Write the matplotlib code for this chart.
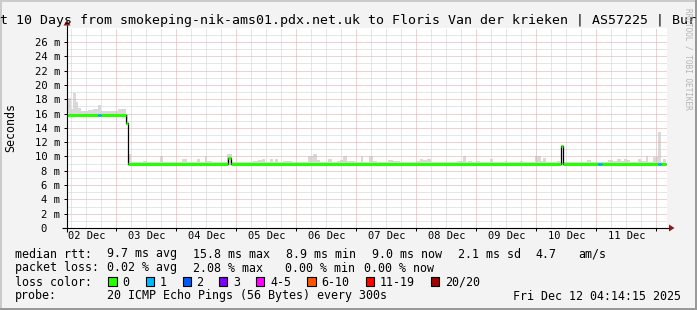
import matplotlib
matplotlib.use("Agg")
import matplotlib.pyplot as plt
from matplotlib.patches import Rectangle, Polygon
from datetime import datetime, timedelta

# ---------------- data ----------------
end_time = datetime(2025, 12, 12, 4, 14, 15)
span_hours = 240
start_time = end_time - timedelta(hours=span_hours)

# median rtt segments (hours since start), value in ms, loss level index
med_start = [0.0, 12.5, 13.6, 23.5, 24.3, 64.2, 65.6, 197.4, 198.2, 212.5, 213.9, 236.5, 237.6]
med_end   = [12.5, 13.6, 23.5, 24.3, 64.2, 65.6, 197.4, 198.2, 212.5, 213.9, 236.5, 237.6, 239.6]
med_ms    = [15.8, 15.8, 15.8, 14.7, 9.0, 9.75, 9.0, 11.5, 9.0, 9.0, 9.0, 9.0, 9.0]
med_loss  = [0, 1, 0, 0, 0, 0, 0, 0, 0, 1, 0, 1, 0]

# smoke (spread of pings) : bars with top value in ms
smoke_start = [0.0, 1.6, 2.3, 3.4, 4.4, 5.4, 8.2, 10.3, 12.3, 13.6, 17.6, 20.3, 23.5,
               24.3, 24.3, 30.4, 37.2, 45.9, 51.9, 55.2, 56.1, 63.9, 74.3, 76.5, 77.9,
               81.2, 83.2, 86.5, 96.5, 98.5, 99.9, 104.5, 107.9, 109.2, 110.5, 111.9,
               113.2, 117.5, 120.9, 122.3, 128.5, 130.5, 139.9, 141.2, 142.3, 144.1,
               155.9, 158.3, 160.5, 163.9, 169.2, 175.2, 181.2, 187.2, 189.5, 190.3,
               196.1, 207.9, 216.5, 218.5, 220.1, 221.5, 222.8, 224.1, 228.5, 229.6,
               231.6, 234.5, 236.3, 238.5]
smoke_end   = [1.6, 2.3, 3.4, 4.4, 5.4, 8.2, 10.3, 12.3, 13.6, 17.6, 20.3, 23.5, 24.3,
               239.6, 25.6, 32.0, 38.4, 47.9, 53.2, 56.1, 57.9, 65.9, 76.5, 77.9, 79.2,
               82.5, 84.5, 89.9, 98.5, 99.9, 101.2, 105.9, 109.2, 110.5, 111.9, 113.2,
               115.2, 118.3, 122.3, 124.1, 130.5, 133.2, 141.2, 142.3, 144.1, 145.5,
               158.3, 159.6, 161.9, 165.2, 170.3, 176.1, 182.3, 189.5, 190.3, 191.6,
               197.2, 209.6, 218.5, 220.1, 221.5, 222.8, 224.1, 225.2, 229.6, 231.6,
               232.5, 236.3, 237.6, 239.5]
smoke_top   = [18.2, 16.6, 18.9, 17.6, 16.8, 16.3, 16.5, 16.6, 17.2, 16.35, 16.3, 16.6, 16.0,
               9.2, 10.4, 9.4, 10.06, 9.64, 9.64, 10.06, 9.37, 10.3, 9.37, 9.5, 9.7,
               9.64, 9.64, 9.4, 10.06, 10.3, 9.5, 9.64, 9.37, 9.5, 10.06, 9.4,
               9.37, 10.06, 10.06, 9.37, 9.5, 9.37, 9.37, 9.64, 9.5, 9.7,
               9.4, 10.06, 9.4, 9.4, 9.64, 9.4, 9.4, 10.06, 9.4, 9.8,
               9.4, 9.5, 9.5, 9.37, 9.64, 9.4, 9.64, 9.5, 9.64, 9.4,
               10.1, 9.97, 13.46, 9.64]

loss_labels = ["0", "1", "2", "3", "4-5", "6-10", "11-19", "20/20"]
loss_colors = ["#26ff00", "#00b8ff", "#0059ff", "#7e00ff", "#ff00ff", "#ff5500", "#ff0000", "#a10000"]

y_max = 28
y_tick_values = list(range(0, 27, 2))

title_text = "t 10 Days from smokeping-nik-ams01.pdx.net.uk to Floris Van der krieken | AS57225 | Bur"
ylabel_text = "Seconds"
legend_rows = [
    [("median rtt:", 16), ("9.7 ms avg", 107.3), ("15.8 ms max", 193.3), ("8.9 ms min", 286.7),
     ("9.0 ms now", 372.7), ("2.1 ms sd", 458.3), ("4.7", 535.7), ("am/s", 579.3)],
    [("packet loss:", 16), ("0.02 % avg", 107.3), ("2.08 % max", 193.3), ("0.00 % min", 286.0),
     ("0.00 % now", 365.0)],
    [("loss color:", 16)],
    [("probe:", 16), ("20 ICMP Echo Pings (56 Bytes) every 300s", 107.3),
     ("Fri Dec 12 04:14:15 2025", 513.3)],
]
loss_box_x = [108.3, 145.7, 182.7, 219.0, 255.7, 307.3, 365.7, 430.7]
loss_lab_x = [123.3, 160.7, 196.7, 234.3, 270.7, 321.7, 380.7, 445.7]

# ---------------- figure ----------------
W, H, DPI = 697, 310, 100
MONO = "DejaVu Sans Mono"
fig = plt.figure(figsize=(W / DPI, H / DPI), dpi=DPI, facecolor="#f3f3f3")

px_l, px_r, px_t, px_b = 67, 667, 27.7, 228
ax = fig.add_axes([px_l / W, 1 - px_b / H, (px_r - px_l) / W, (px_b - px_t) / H])
ax.set_facecolor("white")
ax.set_xlim(0, span_hours)
ax.set_ylim(0, y_max)
for s in ax.spines.values():
    s.set_visible(False)

def hours_of(dt):
    return (dt - start_time).total_seconds() / 3600.0

# grid positions from the calendar
mids, sixes, noons, noon_labels = [], [], [], []
t = datetime(start_time.year, start_time.month, start_time.day)
while t <= end_time:
    h = hours_of(t)
    if 0 < h < span_hours:
        if t.hour == 0:
            mids.append(h)
        else:
            sixes.append(h)
        if t.hour == 12:
            noons.append(h)
            noon_labels.append(t.strftime("%d %b"))
    t += timedelta(hours=6)

dot = (0, (1, 1))
gl = 0.72
for v in range(1, y_max):
    col = "#e9a3a3" if v % 2 == 0 else "#cfcfcf"
    ax.axhline(v, color=col, lw=gl, ls=dot, zorder=2)
for h in sixes:
    ax.axvline(h, color="#cfcfcf", lw=gl, ls=dot, zorder=2)
for h in mids:
    ax.axvline(h, color="#e9a3a3", lw=gl, ls=dot, zorder=2)

# smoke
def median_at(h):
    for s, e, m in zip(med_start, med_end, med_ms):
        if s <= h < e:
            return m
    return med_ms[-1]

bottoms = [median_at(s + 0.01) - 0.25 for s in smoke_start]
heights = [tp - b for tp, b in zip(smoke_top, bottoms)]
widths = [e - s for s, e in zip(smoke_start, smoke_end)]
ax.bar(smoke_start, heights, width=widths, bottom=bottoms, align="edge",
       color="#d9d9d9", linewidth=0, zorder=1)

# black connector (step) line
xs, ys = [], []
for s, e, m in zip(med_start, med_end, med_ms):
    xs += [s, e]
    ys += [m, m]
ax.plot(xs, ys, color="black", lw=0.9, zorder=3, solid_capstyle="butt")
# coloured median
for s, e, m, l in zip(med_start, med_end, med_ms, med_loss):
    ax.hlines(m, s, e, colors=loss_colors[l], lw=2.2, zorder=4, capstyle="butt")

# ticks
ax.set_yticks(y_tick_values)
ax.set_yticklabels([("%d m" % v) if v else "0  " for v in y_tick_values],
                   fontfamily=MONO, fontsize=7.6)
ax.tick_params(axis="y", length=3 * 0.72, width=0.72, pad=2.6, color="black")
ax.set_xticks(mids)
ax.set_xticklabels([""] * len(mids))
ax.tick_params(axis="x", which="major", length=3 * 0.72, width=0.72, color="black")
ax.set_xticks(noons, minor=True)
ax.set_xticklabels(noon_labels, minor=True, fontfamily=MONO, fontsize=7.5)
ax.tick_params(axis="x", which="minor", length=0, pad=2.5)

# ---------------- overlay (pixel coords) ----------------
ov = fig.add_axes([0, 0, 1, 1], zorder=5)
ov.set_xlim(0, W)
ov.set_ylim(H, 0)
ov.axis("off")
ov.patch.set_visible(False)

# 3D border
ov.add_patch(Rectangle((0, 0), W, 2, color="#cbcbcb", lw=0))
ov.add_patch(Rectangle((0, 0), 2, H, color="#cbcbcb", lw=0))
ov.add_patch(Rectangle((0, H - 2.5), W, 2.5, color="#999999", lw=0))
ov.add_patch(Rectangle((W - 2.5, 0), 2.5, H, color="#999999", lw=0))

# axis lines with arrows
ov.plot([62, 669], [228, 228], color="black", lw=0.8, solid_capstyle="butt")
ov.plot([67, 67], [25, 232], color="black", lw=0.8, solid_capstyle="butt")
ov.add_patch(Polygon([(669, 224.5), (669, 231.5), (674.5, 228)], closed=True, color="#8b1a1a", lw=0))
ov.add_patch(Polygon([(63.5, 25.5), (70.5, 25.5), (67, 20)], closed=True, color="#8b1a1a", lw=0))

# title
ov.text(0, 24, title_text, fontfamily=MONO, fontsize=9.57, ha="left", va="baseline", color="black")
# y label
ov.text(11, 128, ylabel_text, fontfamily=MONO, fontsize=8.4, rotation=90, ha="center", va="center")
# watermark
ov.text(688, 59, "RRDTOOL / TOBI OETIKER", fontfamily=MONO, fontsize=5.6, rotation=270,
        ha="center", va="center", color="#b4b4b4")

# legend
row_base = [257.5, 271.5, 285.5, 299.5]
for row, yb in zip(legend_rows, row_base):
    for txt, x in row:
        ov.text(x - 0.7, yb, txt, fontfamily=MONO, fontsize=8.42, ha="left", va="baseline")
for bx, lx, lab, col in zip(loss_box_x, loss_lab_x, loss_labels, loss_colors):
    ov.add_patch(Rectangle((bx, 277.2), 8.4, 9.0, facecolor=col, edgecolor="black", lw=0.8))
    ov.text(lx - 0.7, row_base[2], lab, fontfamily=MONO, fontsize=8.42, ha="left", va="baseline")

fig.savefig("out.png", dpi=DPI, facecolor=fig.get_facecolor())
